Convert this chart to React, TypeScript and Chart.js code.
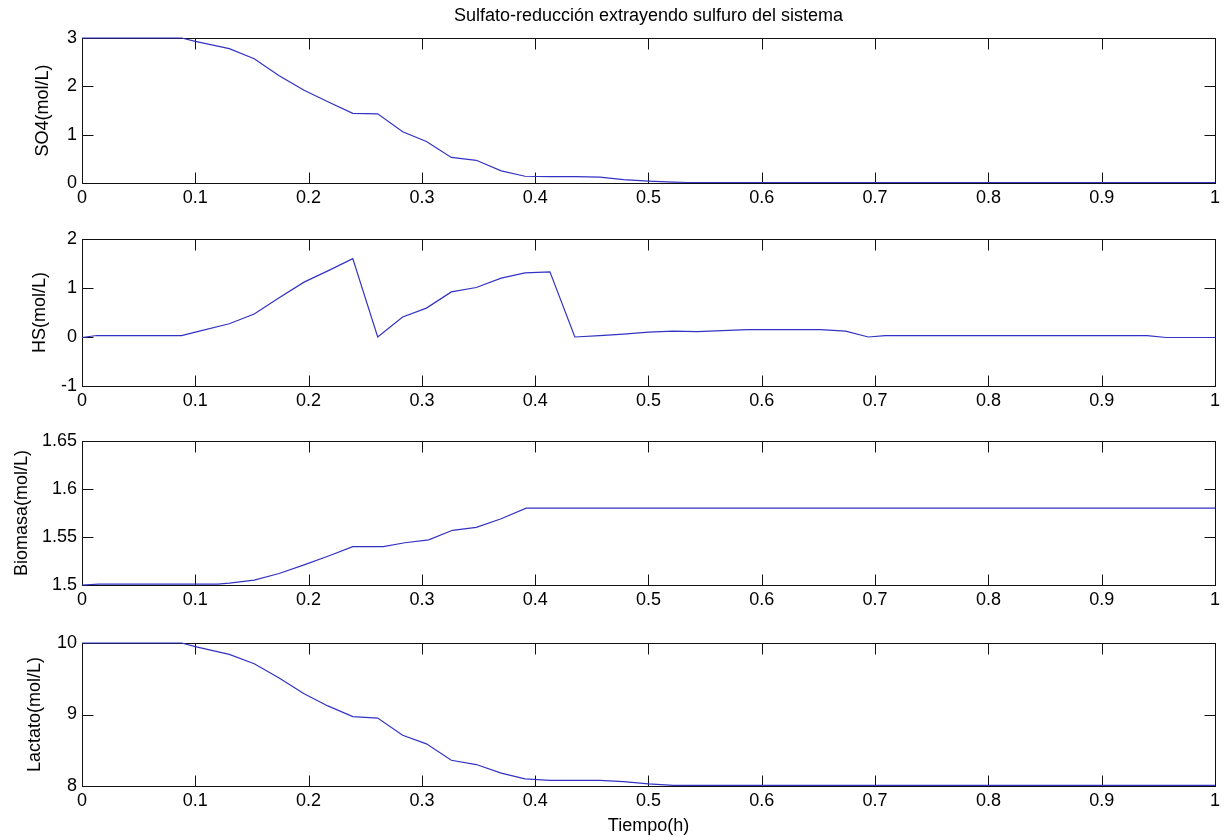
import React, { useEffect, useRef } from "react";
import { Chart, registerables } from "chart.js";

Chart.register(...registerables);

// ---------- data ----------
const xTickValues = [0, 0.1, 0.2, 0.3, 0.4, 0.5, 0.6, 0.7, 0.8, 0.9, 1];

const so4T = [0, 0.088, 0.1, 0.13, 0.152, 0.174, 0.196, 0.217, 0.239, 0.261, 0.283, 0.304, 0.326, 0.348, 0.37, 0.391, 0.413, 0.435, 0.457, 0.478, 0.5, 0.522, 0.535, 1];
const so4V = [3, 3, 2.93, 2.78, 2.57, 2.22, 1.92, 1.68, 1.44, 1.43, 1.06, 0.86, 0.53, 0.47, 0.25, 0.14, 0.13, 0.13, 0.12, 0.07, 0.04, 0.02, 0.01, 0.01];
const so4Ticks = [0, 1, 2, 3];

const hsT = [0, 0.013, 0.088, 0.1, 0.13, 0.152, 0.174, 0.196, 0.217, 0.239, 0.261, 0.283, 0.304, 0.326, 0.348, 0.37, 0.391, 0.413, 0.435, 0.457, 0.478, 0.5, 0.522, 0.543, 0.565, 0.587, 0.609, 0.63, 0.652, 0.674, 0.694, 0.709, 0.94, 0.957, 1];
const hsV = [-0.01, 0.03, 0.03, 0.1, 0.27, 0.47, 0.8, 1.12, 1.35, 1.6, 0.0, 0.41, 0.59, 0.92, 1.01, 1.2, 1.31, 1.33, 0.0, 0.03, 0.06, 0.1, 0.12, 0.11, 0.13, 0.15, 0.15, 0.15, 0.15, 0.12, 0.0, 0.03, 0.03, -0.01, -0.01];
const hsTicks = [-1, 0, 1, 2];

const bioT = [0, 0.015, 0.12, 0.13, 0.152, 0.174, 0.196, 0.217, 0.239, 0.266, 0.285, 0.306, 0.327, 0.348, 0.37, 0.392, 1];
const bioV = [1.5, 1.501, 1.501, 1.502, 1.505, 1.512, 1.521, 1.53, 1.54, 1.54, 1.544, 1.547, 1.557, 1.56, 1.569, 1.58, 1.58];
const bioTicks = [1.5, 1.55, 1.6, 1.65];

const lacT = [0, 0.088, 0.1, 0.13, 0.152, 0.174, 0.196, 0.217, 0.239, 0.261, 0.283, 0.304, 0.326, 0.348, 0.37, 0.391, 0.413, 0.457, 0.478, 0.5, 0.522, 1];
const lacV = [10, 10, 9.95, 9.84, 9.71, 9.51, 9.29, 9.12, 8.97, 8.95, 8.71, 8.59, 8.36, 8.3, 8.18, 8.1, 8.08, 8.08, 8.06, 8.03, 8.01, 8.01];
const lacTicks = [8, 9, 10];

const mainTitle = "Sulfato-reducción extrayendo sulfuro del sistema";
const xAxisTitle = "Tiempo(h)";
const yTitles = ["SO4(mol/L)", "HS(mol/L)", "Biomasa(mol/L)", "Lactato(mol/L)"];

// ---------- layout ----------
const W = 1224;
const H = 837;
const PLOT_LEFT = 82;
const PLOT_RIGHT = 1217;
const TOPS = [38, 239, 441, 643];
const BOTTOMS = [183, 386, 585, 786];
const Y_TITLE_CENTER = [43, 40, 22, 35];
const FONT_SIZE = 18;
const FONT_FAMILY = "'Liberation Sans', Arial, Helvetica, sans-serif";
const LINE_COLOR = "rgb(50,50,195)";
const TICK_LEN = 11;

const boxPlugin = {
  id: "matlabBox",
  beforeDatasetsDraw(chart: any) {
    const { ctx, chartArea: a, scales } = chart;
    ctx.save();
    ctx.strokeStyle = "#111";
    ctx.lineWidth = 1;
    const l = Math.round(a.left) + 0.5;
    const r = Math.round(a.right) + 0.5;
    const t = Math.round(a.top) + 0.5;
    const b = Math.round(a.bottom) + 0.5;
    ctx.strokeRect(l, t, r - l, b - t);
    ctx.beginPath();
    for (const tk of scales.x.ticks) {
      const px = Math.round(scales.x.getPixelForValue(tk.value)) + 0.5;
      ctx.moveTo(px, t);
      ctx.lineTo(px, t + TICK_LEN);
      ctx.moveTo(px, b);
      ctx.lineTo(px, b - TICK_LEN);
    }
    for (const tk of scales.y.ticks) {
      const py = Math.round(scales.y.getPixelForValue(tk.value)) + 0.5;
      ctx.moveTo(l, py);
      ctx.lineTo(l + TICK_LEN, py);
      ctx.moveTo(r, py);
      ctx.lineTo(r - TICK_LEN, py);
    }
    ctx.stroke();
    ctx.restore();
  },
};

type SubProps = {
  idx: number;
  times: number[];
  values: number[];
  yTicks: number[];
  yDecimals: number;
};

function Subplot({ idx, times, values, yTicks, yDecimals }: SubProps) {
  const ref = useRef<HTMLCanvasElement | null>(null);
  const isFirst = idx === 0;
  const isLast = idx === 3;
  const plotTop = TOPS[idx];
  const plotBottom = BOTTOMS[idx];
  const canvasTop = isFirst ? 0 : plotTop - 20;
  const canvasBottom = isLast ? H : plotBottom + 40;
  const canvasH = canvasBottom - canvasTop;
  const padTop = isFirst ? 0 : 20;
  const xH = canvasBottom - plotBottom;

  useEffect(() => {
    if (!ref.current) return;
    const lh = FONT_SIZE * 1.2;
    const font = { family: FONT_FAMILY, size: FONT_SIZE };
    const chart = new Chart(ref.current, {
      type: "line",
      data: {
        datasets: [
          {
            data: times.map((t, i) => ({ x: t, y: values[i] })),
            borderColor: LINE_COLOR,
            borderWidth: 1.2,
            pointRadius: 0,
            tension: 0,
            fill: false,
            clip: 3,
          },
        ],
      },
      options: {
        responsive: false,
        animation: false,
        events: [],
        layout: { padding: { left: 0, right: W - PLOT_RIGHT, top: padTop, bottom: 0 } },
        plugins: {
          legend: { display: false },
          tooltip: { enabled: false },
          title: {
            display: isFirst,
            text: mainTitle,
            fullSize: false,
            color: "#000",
            font: { family: FONT_FAMILY, size: FONT_SIZE, weight: "normal" },
            padding: { top: 16 - lh / 2, bottom: plotTop - (16 - lh / 2) - lh },
          },
        },
        scales: {
          x: {
            type: "linear",
            min: 0,
            max: 1,
            grid: { display: false, drawTicks: false },
            border: { display: false },
            ticks: {
              color: "#000",
              font,
              padding: 4,
              maxRotation: 0,
              autoSkip: false,
              callback: (v: any) => String(Number(Number(v).toFixed(1))),
            },
            afterBuildTicks: (s: any) => {
              s.ticks = xTickValues.map((v) => ({ value: v }));
            },
            afterFit: (s: any) => {
              s.height = xH;
            },
            title: {
              display: isLast,
              text: xAxisTitle,
              color: "#000",
              font,
              padding: { top: 0, bottom: 0 },
            },
          },
          y: {
            type: "linear",
            min: yTicks[0],
            max: yTicks[yTicks.length - 1],
            grid: { display: false, drawTicks: false },
            border: { display: false },
            ticks: {
              color: "#000",
              font,
              padding: 5,
              autoSkip: false,
              callback: (v: any) => String(Number(Number(v).toFixed(yDecimals))),
            },
            afterBuildTicks: (s: any) => {
              s.ticks = yTicks.map((v) => ({ value: v }));
            },
            afterFit: (s: any) => {
              s.width = PLOT_LEFT;
            },
            title: {
              display: true,
              text: yTitles[idx],
              color: "#000",
              font,
              padding: { top: Y_TITLE_CENTER[idx] - lh / 2, bottom: 0 },
            },
          },
        },
      },
      plugins: [boxPlugin],
    } as any);
    return () => chart.destroy();
  }, []);

  return (
    <canvas
      ref={ref}
      width={W}
      height={canvasH}
      style={{ position: "absolute", left: 0, top: canvasTop, width: W, height: canvasH }}
    />
  );
}

export default function App() {
  return (
    <div style={{ position: "absolute", left: 0, top: 0, width: W, height: H, background: "#fff", overflow: "hidden" }}>
      <Subplot idx={0} times={so4T} values={so4V} yTicks={so4Ticks} yDecimals={0} />
      <Subplot idx={1} times={hsT} values={hsV} yTicks={hsTicks} yDecimals={0} />
      <Subplot idx={2} times={bioT} values={bioV} yTicks={bioTicks} yDecimals={2} />
      <Subplot idx={3} times={lacT} values={lacV} yTicks={lacTicks} yDecimals={0} />
    </div>
  );
}
